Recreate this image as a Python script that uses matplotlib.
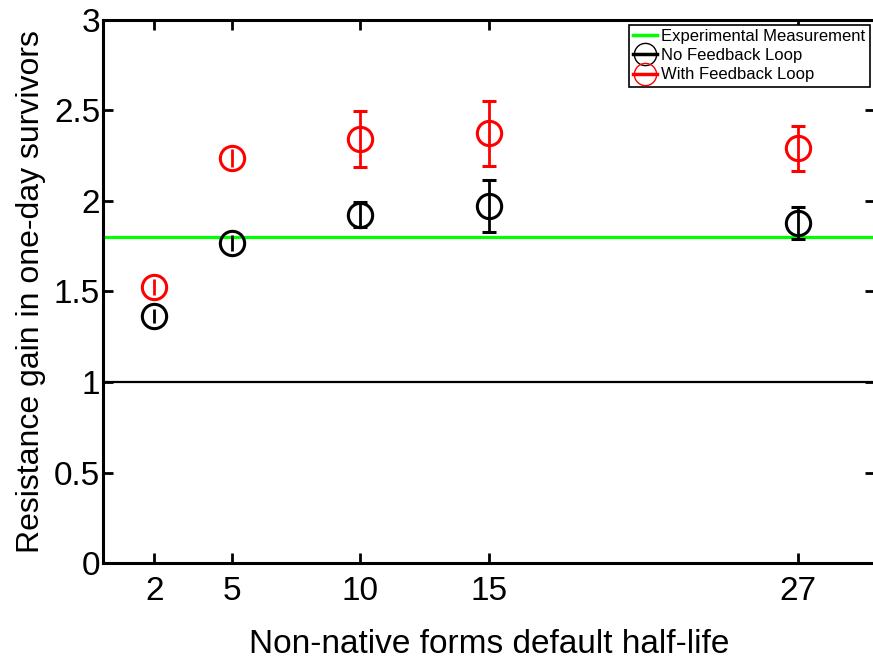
import matplotlib
matplotlib.use("Agg")
import matplotlib.pyplot as plt
from matplotlib.lines import Line2D

plt.rcParams['font.family'] = ['Liberation Sans', 'DejaVu Sans']

# Данные
half_life = [2, 5, 10, 15, 27]
no_fb = [1.365, 1.768, 1.923, 1.974, 1.877]
no_fb_err = [0.037, 0.044, 0.069, 0.144, 0.088]
with_fb = [1.524, 2.239, 2.341, 2.374, 2.291]
with_fb_err = [0.045, 0.05, 0.155, 0.18, 0.124]
experimental = 1.8
baseline = 1.0

fig = plt.figure(figsize=(8.73, 6.62), dpi=100)
ax = fig.add_axes([0.118, 0.1495, 0.884, 0.8205])

ax.axhline(experimental, color=(0, 1, 0), lw=2.3, zorder=1)
ax.axhline(baseline, color='black', lw=1.6, zorder=1)


def draw_series(x, y, err, color):
    # маленькие ошибки рисуем без "шапок", как в исходной картинке
    big = [i for i in range(len(x)) if err[i] > 0.06]
    small = [i for i in range(len(x)) if err[i] <= 0.06]
    for idx, cap in ((big, 5), (small, 0)):
        if not idx:
            continue
        ax.errorbar([x[i] for i in idx], [y[i] for i in idx],
                    yerr=[err[i] for i in idx], fmt='o', color=color,
                    mfc='none', mec=color, ms=17.5, mew=2.2, elinewidth=2.0,
                    capsize=cap, capthick=2.0, zorder=3)


draw_series(half_life, no_fb, no_fb_err, 'black')
draw_series(half_life, with_fb, with_fb_err, 'red')

ax.set_xlim(0, 30)
ax.set_ylim(0, 3)
ax.set_xticks(half_life)
ax.set_yticks([0, 0.5, 1, 1.5, 2, 2.5, 3])
ax.set_yticklabels(['0', '0.5', '1', '1.5', '2', '2.5', '3'])
ax.tick_params(direction='in', length=7, width=2, labelsize=24,
               top=True, right=True)
ax.tick_params(axis='x', pad=9)
ax.tick_params(axis='y', pad=2)
for s in ax.spines.values():
    s.set_linewidth(2.2)

ax.set_xlabel("Non-native forms default half-life", fontsize=24, labelpad=16)
ax.set_ylabel("Resistance gain in one-day survivors", fontsize=23, labelpad=6)

handles = [
    Line2D([], [], color=(0, 1, 0), lw=2.5),
    Line2D([], [], color='black', lw=2.5, marker='o', mfc='none', ms=16, mew=1.0),
    Line2D([], [], color='red', lw=2.5, marker='o', mfc='none', ms=16, mew=1.0),
]
leg = ax.legend(handles, ["Experimental Measurement", "No Feedback Loop",
                          "With Feedback Loop"],
                loc='upper right', fontsize=12, handlelength=1.45,
                handletextpad=0.25, borderpad=0.25, labelspacing=0.25,
                borderaxespad=0.3, fancybox=False, framealpha=1)
leg.get_frame().set_edgecolor('black')
leg.get_frame().set_linewidth(1.2)

fig.savefig("out.png", dpi=100)
